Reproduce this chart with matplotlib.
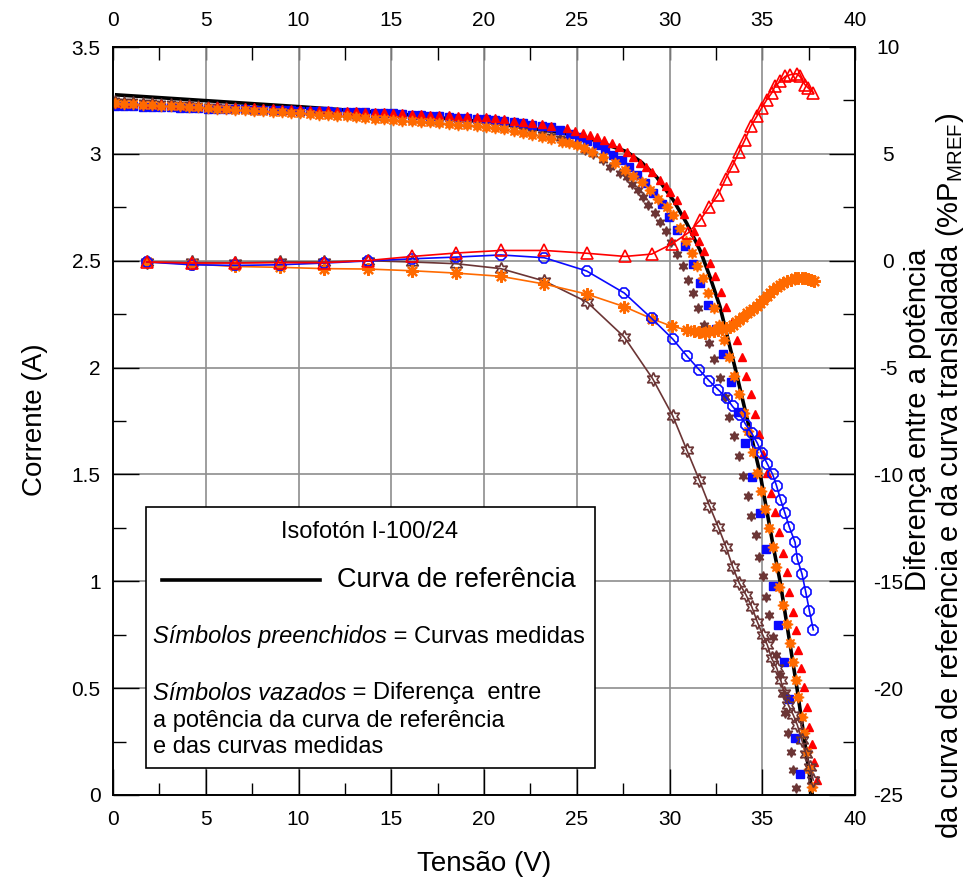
import numpy as np
import matplotlib.pyplot as plt
import matplotlib as mt
from matplotlib.patches import Rectangle
from matplotlib.lines import Line2D
from matplotlib.ticker import MultipleLocator

mt.rcParams['font.family'] = ['Liberation Sans', 'DejaVu Sans']
mt.rcParams['mathtext.fontset'] = 'custom'
mt.rcParams['mathtext.rm'] = 'Liberation Sans'
mt.rcParams['mathtext.it'] = 'Liberation Sans:italic'
mt.rcParams['axes.unicode_minus'] = False

#%% reference I-V curve
v_ref = [0.2, 5.0, 10.0, 15.0, 20.0, 24.1, 25.9, 27.7, 28.5, 29.3, 30.2, 30.93, 31.64, 32.18,
         32.72, 33.56, 34.88, 35.6, 35.96, 36.89, 37.7]
i_ref = [3.276, 3.249, 3.221, 3.19, 3.15, 3.10, 3.065, 3.01, 2.96, 2.892, 2.784, 2.675, 2.55,
         2.425, 2.285, 1.99, 1.505, 1.16, 1.0, 0.49, 0.0]

#%% measured curves (filled symbols), flat part shares one voltage list
v_flat = [0.1, 0.6, 1.1, 1.6, 2.1, 2.6, 3.1, 3.6, 4.1, 4.6, 5.1, 5.6, 6.1, 6.6, 7.1, 7.6,
          8.1, 8.6, 9.1, 9.6, 10.1, 10.6, 11.1, 11.6, 12.1, 12.6, 13.1, 13.6, 14.1, 14.6,
          15.1, 15.6, 16.1, 16.6, 17.1, 17.6, 18.1, 18.6, 19.1, 19.6, 20.1, 20.6, 21.1,
          21.6, 22.1, 22.6, 23.1, 23.6]

i_red_flat = [3.240, 3.238, 3.236, 3.235, 3.233, 3.232, 3.230, 3.229, 3.227, 3.226, 3.224,
              3.223, 3.221, 3.220, 3.218, 3.217, 3.215, 3.213, 3.212, 3.210, 3.208, 3.207,
              3.205, 3.204, 3.202, 3.200, 3.199, 3.197, 3.195, 3.194, 3.192, 3.190, 3.188,
              3.186, 3.184, 3.182, 3.180, 3.178, 3.176, 3.174, 3.171, 3.167, 3.162, 3.156,
              3.150, 3.144, 3.138, 3.132]
v_red_knee = [24.46, 24.9, 25.35, 25.7, 26.07, 26.45, 26.88, 27.3, 27.69, 28.05, 28.41, 28.75,
              29.04, 29.49, 29.8, 30.03, 30.39, 30.8, 31.3, 31.6, 31.86, 32.18, 32.45, 32.76,
              33.03, 33.35, 33.62, 33.89, 34.12, 34.38, 34.61, 34.84, 35.06, 35.27, 35.47,
              35.69, 35.9, 36.1, 36.32, 36.46, 36.64, 36.8, 36.94, 37.09, 37.25, 37.4, 37.54,
              37.66, 37.79, 37.93]
i_red_knee = [3.12, 3.108, 3.096, 3.088, 3.08, 3.066, 3.05, 3.03, 3.01, 2.985, 2.956, 2.937,
              2.917, 2.878, 2.85, 2.823, 2.784, 2.72, 2.64, 2.59, 2.547, 2.49, 2.43, 2.355,
              2.285, 2.212, 2.127, 2.048, 1.961, 1.876, 1.782, 1.689, 1.596, 1.505, 1.412,
              1.326, 1.232, 1.134, 1.042, 0.951, 0.858, 0.772, 0.679, 0.593, 0.504, 0.413,
              0.32, 0.239, 0.156, 0.07]

i_blue_flat = [3.224, 3.223, 3.222, 3.220, 3.219, 3.218, 3.217, 3.216, 3.214, 3.213, 3.212,
               3.211, 3.210, 3.209, 3.208, 3.207, 3.206, 3.205, 3.204, 3.203, 3.202, 3.201,
               3.200, 3.199, 3.197, 3.196, 3.195, 3.194, 3.192, 3.191, 3.190, 3.187, 3.184,
               3.182, 3.179, 3.176, 3.173, 3.170, 3.167, 3.164, 3.161, 3.157, 3.153, 3.148,
               3.143, 3.137, 3.131, 3.124]
v_blue_knee = [24.1, 24.64, 25.1, 25.57, 26.07, 26.52, 26.97, 27.42, 27.83, 28.26, 28.68,
               29.13, 29.58, 29.99, 30.39, 30.84, 31.25, 31.64, 32.06, 32.48, 32.9, 33.3,
               33.71, 34.07, 34.43, 34.88, 35.2, 35.56, 35.87, 36.17, 36.46, 36.77, 37.03]
i_blue_knee = [3.11, 3.093, 3.078, 3.062, 3.042, 3.021, 2.995, 2.971, 2.94, 2.901, 2.862,
               2.818, 2.765, 2.706, 2.644, 2.567, 2.485, 2.396, 2.295, 2.18, 2.065, 1.934,
               1.794, 1.649, 1.486, 1.318, 1.15, 0.978, 0.796, 0.624, 0.447, 0.265, 0.10]

i_orange_flat = [3.236, 3.234, 3.232, 3.230, 3.228, 3.226, 3.224, 3.222, 3.219, 3.217, 3.215,
                 3.212, 3.210, 3.207, 3.205, 3.202, 3.200, 3.197, 3.195, 3.192, 3.190, 3.187,
                 3.184, 3.181, 3.178, 3.175, 3.172, 3.168, 3.165, 3.162, 3.159, 3.156, 3.153,
                 3.150, 3.147, 3.143, 3.140, 3.137, 3.134, 3.131, 3.127, 3.121, 3.114, 3.107,
                 3.099, 3.090, 3.081, 3.071]
v_orange_knee = [24.19, 24.6, 25.0, 25.4, 25.8, 26.43, 27.06, 27.6, 28.05, 28.5, 28.95, 29.4,
                 29.85, 30.2, 30.55, 30.89, 31.2, 31.5, 31.79, 32.09, 32.4, 32.68, 32.94, 33.22,
                 33.48, 33.76, 34.02, 34.25, 34.48, 34.7, 34.93, 35.15, 35.36, 35.56, 35.74,
                 35.92, 36.13, 36.32, 36.5, 36.67, 36.82, 36.94, 37.13, 37.25, 37.4, 37.54, 37.68]
i_orange_knee = [3.057, 3.05, 3.042, 3.027, 3.01, 2.987, 2.956, 2.925, 2.897, 2.87, 2.831,
                 2.788, 2.75, 2.714, 2.655, 2.59, 2.536, 2.476, 2.419, 2.351, 2.28, 2.2, 2.13,
                 2.048, 1.961, 1.877, 1.789, 1.705, 1.607, 1.508, 1.424, 1.337, 1.248, 1.159,
                 1.068, 0.975, 0.889, 0.80, 0.713, 0.624, 0.538, 0.457, 0.366, 0.289, 0.203,
                 0.12, 0.039]

i_brown_flat = [3.252, 3.249, 3.247, 3.244, 3.242, 3.239, 3.237, 3.234, 3.232, 3.229, 3.226,
                3.223, 3.220, 3.217, 3.214, 3.211, 3.209, 3.206, 3.203, 3.200, 3.197, 3.194,
                3.191, 3.188, 3.185, 3.181, 3.178, 3.175, 3.172, 3.169, 3.166, 3.163, 3.160,
                3.157, 3.153, 3.150, 3.147, 3.144, 3.141, 3.138, 3.134, 3.129, 3.123, 3.117,
                3.110, 3.102, 3.094, 3.085]
v_brown_knee = [24.1, 24.5, 25.0, 25.45, 25.9, 26.43, 26.79, 27.33, 27.69, 27.96, 28.32, 28.59,
                28.86, 29.22, 29.49, 29.81, 30.06, 30.39, 30.71, 30.98, 31.28, 31.55, 31.86,
                32.13, 32.41, 32.72, 32.99, 33.22, 33.48, 33.75, 33.98, 34.21, 34.39, 34.65,
                34.82, 35.02, 35.2, 35.38, 35.56, 35.74, 35.96, 36.17, 36.25, 36.37, 36.55,
                36.67, 36.82]
i_brown_knee = [3.076, 3.068, 3.045, 3.02, 3.0, 2.971, 2.94, 2.911, 2.89, 2.858, 2.833, 2.796,
                2.76, 2.724, 2.683, 2.64, 2.589, 2.533, 2.474, 2.41, 2.347, 2.277, 2.199, 2.116,
                2.039, 1.95, 1.861, 1.767, 1.68, 1.586, 1.493, 1.399, 1.306, 1.217, 1.115,
                1.026, 0.928, 0.842, 0.737, 0.655, 0.562, 0.473, 0.382, 0.292, 0.203, 0.117,
                0.031]

#%% power difference (open symbols, right axis, %P_MREF)
v_red_d = [1.82, 4.24, 6.58, 9.0, 11.37, 13.76, 16.13, 18.5, 20.9, 23.25, 25.53, 27.6, 29.04,
           30.12, 31.0, 31.64, 32.14, 32.63, 33.03, 33.4, 33.76, 34.07, 34.38, 34.7, 34.97,
           35.24, 35.51, 35.69, 35.96, 36.23, 36.5, 36.85, 37.03, 37.3, 37.48, 37.75]
p_red_d = [-0.06, -0.11, -0.11, -0.09, -0.09, 0.01, 0.2, 0.36, 0.48, 0.48, 0.35, 0.2, 0.31,
           0.78, 1.30, 1.89, 2.51, 3.09, 3.84, 4.45, 5.11, 5.66, 6.29, 6.75, 7.15, 7.53, 7.85,
           8.16, 8.39, 8.62, 8.70, 8.75, 8.62, 8.24, 8.08, 7.85]

v_blue_d = [1.82, 4.24, 6.58, 9.0, 11.37, 13.76, 16.13, 18.5, 20.9, 23.25, 25.53, 27.56, 29.04,
            30.17, 30.93, 31.6, 32.14, 32.63, 33.08, 33.4, 33.8, 34.12, 34.43, 34.73, 34.97,
            35.27, 35.56, 35.77, 35.99, 36.22, 36.46, 36.77, 36.89, 37.14, 37.34, 37.54, 37.75]
p_blue_d = [-0.06, -0.19, -0.22, -0.19, -0.11, -0.01, 0.09, 0.17, 0.27, 0.14, -0.48, -1.51,
            -2.70, -3.66, -4.45, -5.1, -5.62, -6.04, -6.43, -6.82, -7.21, -7.68, -8.07, -8.53,
            -9.0, -9.5, -10.0, -10.53, -11.18, -11.8, -12.46, -13.18, -13.96, -14.65, -15.48,
            -16.37, -17.27]

v_orange_d = [1.82, 4.24, 6.58, 9.0, 11.37, 13.76, 16.13, 18.5, 20.9, 23.25, 25.53, 27.56,
              29.04, 30.12, 30.93, 31.3, 31.6, 31.9, 32.15, 32.4, 32.63, 32.85, 33.05, 33.25,
              33.44, 33.6, 33.77, 33.95, 34.16, 34.35, 34.52, 34.7, 34.88, 35.05, 35.24, 35.4,
              35.6, 35.78, 35.96, 36.1, 36.32, 36.55, 36.77, 36.95, 37.13, 37.3, 37.49, 37.65,
              37.79]
p_orange_d = [-0.06, -0.15, -0.27, -0.31, -0.37, -0.39, -0.47, -0.58, -0.73, -1.09, -1.56,
              -2.15, -2.71, -3.07, -3.23, -3.3, -3.35, -3.36, -3.31, -3.28, -3.23, -3.2, -3.15,
              -3.08, -2.99, -2.88, -2.76, -2.62, -2.45, -2.36, -2.26, -2.12, -1.98, -1.83,
              -1.67, -1.52, -1.36, -1.22, -1.12, -1.05, -0.97, -0.88, -0.81, -0.8, -0.81,
              -0.82, -0.86, -0.9, -0.97]

v_brown_d = [1.82, 4.24, 6.58, 9.0, 11.37, 13.76, 16.13, 18.5, 20.9, 23.25, 25.55, 27.56, 29.09,
             30.17, 30.93, 31.6, 32.15, 32.63, 33.05, 33.4, 33.76, 34.12, 34.43, 34.73, 35.02,
             35.27, 35.5, 35.78, 35.99, 36.19, 36.4, 36.67, 36.89, 37.13, 37.36, 37.57, 37.75]
p_brown_d = [-0.06, -0.08, -0.09, -0.06, -0.06, 0.0, -0.06, -0.14, -0.37, -0.95, -1.93, -3.57,
             -5.52, -7.25, -8.85, -10.25, -11.46, -12.46, -13.4, -14.31, -15.09, -15.63,
             -16.18, -16.89, -17.5, -17.97, -18.6, -19.06, -19.61, -20.23, -20.78, -21.25,
             -21.72, -22.42, -23.07, -23.67, -24.3]

#%% colours / markers
c_red = '#ff0000'
c_blue = '#0a0aff'
c_orange = '#ff6a00'
c_brown = '#6b3535'
star6 = (6, 1, 0)
star8 = (8, 1, 0)

#%% figure
W, H = 971.0, 881.0
def fx(px):
    return px / W
def fy(py):
    return 1 - py / H

fig = plt.figure(figsize=(W / 100, H / 100), dpi=100)
ax = fig.add_axes([fx(113), fy(795), 742 / W, 748 / H])
ax2 = ax.twinx()

ax.set_xlim(0, 40)
ax.set_ylim(0, 3.5)
ax2.set_ylim(-25, 10)

ax.xaxis.set_major_locator(MultipleLocator(5))
ax.xaxis.set_minor_locator(MultipleLocator(2.5))
ax.yaxis.set_major_locator(MultipleLocator(0.5))
ax.yaxis.set_minor_locator(MultipleLocator(0.25))
ax2.yaxis.set_major_locator(MultipleLocator(5))
ax2.yaxis.set_minor_locator(MultipleLocator(2.5))
ax.yaxis.set_major_formatter(mt.ticker.FuncFormatter(lambda v, p: '%g' % v))

ax.grid(True, which='major', color='#8e8e8e', lw=1.2)
ax.set_axisbelow(True)

for a in (ax, ax2):
    for s in a.spines.values():
        s.set_color('k')
        s.set_linewidth(1.2)
ax.tick_params(which='both', direction='in', width=1.0, labelsize=15, right=False, top=False)
ax.tick_params(which='major', length=19)
ax.tick_params(which='minor', length=9)
ax.tick_params(axis='y', pad=9)
ax.tick_params(axis='x', pad=11)
ax2.tick_params(which='both', direction='in', width=1.0, labelsize=15)
ax2.tick_params(which='major', length=19, pad=24)
ax2.tick_params(which='minor', length=9)
for t in ax2.yaxis.get_major_ticks():
    t.label2.set_horizontalalignment('center')

top = ax.secondary_xaxis('top')
top.xaxis.set_major_locator(MultipleLocator(5))
top.xaxis.set_minor_locator(MultipleLocator(2.5))
top.tick_params(which='both', direction='in', length=9, width=1.0, labelsize=15, pad=12)
top.spines['top'].set_linewidth(1.2)

#%% curves
ax.plot(v_ref, i_ref, color='k', lw=2.6, zorder=3)
ax.plot(v_flat + v_brown_knee, i_brown_flat + i_brown_knee, ls='none', marker=star6,
        ms=7, color=c_brown, mec=c_brown, zorder=4)
ax.plot(v_flat + v_blue_knee, i_blue_flat + i_blue_knee, ls='none', marker='s',
        ms=5.5, color=c_blue, zorder=4)
ax.plot(v_flat + v_red_knee, i_red_flat + i_red_knee, ls='none', marker='^',
        ms=6, color=c_red, zorder=4)
ax.plot(v_flat + v_orange_knee, i_orange_flat + i_orange_knee, ls='none', marker=star8,
        ms=8, color=c_orange, zorder=5)

ax2.plot(v_brown_d, p_brown_d, color=c_brown, lw=1.2, marker=star6, ms=10, mfc='none',
         mec=c_brown, mew=1.2)
ax2.plot(v_orange_d, p_orange_d, color=c_orange, lw=1.2, marker=(8, 2, 0), ms=9,
         mec=c_orange, mew=1.6)
ax2.plot(v_blue_d, p_blue_d, color=c_blue, lw=1.2, marker='8', ms=8.5, mfc='none',
         mec=c_blue, mew=1.2)
ax2.plot(v_red_d, p_red_d, color=c_red, lw=1.2, marker='^', ms=9, mfc='none',
         mec=c_red, mew=1.2)

#%% labels
fig.text(fx(35), fy(420), 'Corrente (A)', rotation=90, ha='center', va='center', size=20)
fig.text(fx(484), fy(864), 'Tensão (V)', ha='center', va='center', size=20)
fig.text(fx(918), fy(420), 'Diferença entre a potência', rotation=90, ha='center',
         va='center', size=21)
fig.text(fx(950), fy(476), r'da curva de referência e da curva transladada (%P$_{\mathrm{MREF}}$)',
         rotation=90, ha='center', va='center', size=21)

#%% text box
box = Rectangle((fx(146), fy(768)), (595 - 146) / W, (768 - 507) / H, transform=fig.transFigure,
                facecolor='white', edgecolor='k', lw=1.2, zorder=10)
fig.add_artist(box)
fig.text(fx(370), fy(532), 'Isofotón I-100/24', ha='center', va='center', size=17, zorder=11)
fig.add_artist(Line2D([fx(162), fx(320)], [fy(580), fy(580)], color='k', lw=2.6, zorder=11))
fig.text(fx(337), fy(580), 'Curva de referência', ha='left', va='center', size=19.5, zorder=11)

def mixed_line(px, py, italic, plain):
    t = fig.text(fx(px), fy(py), italic, ha='left', va='center', size=17, style='italic',
                 zorder=11)
    bb = t.get_window_extent(fig.canvas.get_renderer())
    fig.text(bb.x1 / fig.bbox.width, fy(py), plain, ha='left', va='center', size=17, zorder=11)

mixed_line(153, 637, 'Símbolos preenchidos', ' = Curvas medidas')
mixed_line(153, 693, 'Símbolos vazados', ' = Diferença  entre')
fig.text(fx(153), fy(721), 'a potência da curva de referência', ha='left', va='center',
         size=17, zorder=11)
fig.text(fx(153), fy(747), 'e das curvas medidas', ha='left', va='center', size=17, zorder=11)

fig.savefig('out.png', dpi=100)
